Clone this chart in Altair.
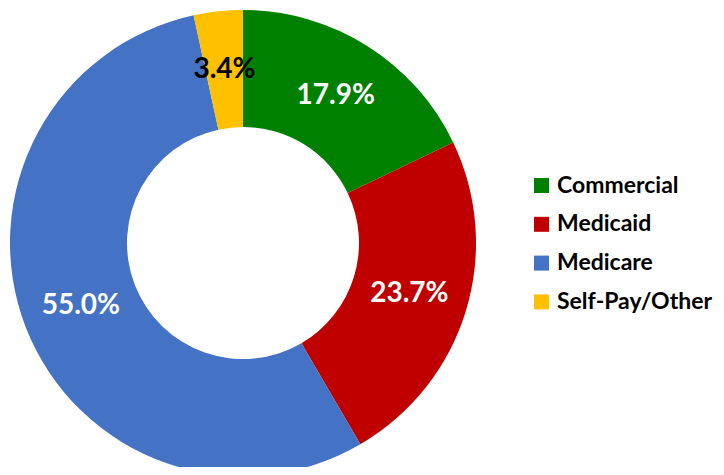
import altair as alt
import pandas as pd

categories = ["Commercial", "Medicaid", "Medicare", "Self-Pay/Other"]
values = [17.9, 23.7, 55.0, 3.4]
labels = ["17.9%", "23.7%", "55.0%", "3.4%"]
order = [0, 1, 2, 3]
colors = ["#008000", "#C00000", "#4472C4", "#FFC000"]

df = pd.DataFrame({"category": categories, "value": values, "label": labels, "ord": order})

FONT = "Lato"

base = alt.Chart(df).encode(
    theta=alt.Theta("value:Q", stack=True),
    order=alt.Order("ord:Q"),
    x=alt.value(235),
    y=alt.value(235),
)

arcs = base.mark_arc(innerRadius=116, outerRadius=233).encode(
    color=alt.Color(
        "category:N",
        scale=alt.Scale(domain=categories, range=colors),
        sort=categories,
        legend=alt.Legend(
            title=None,
            orient="none",
            legendX=522,
            legendY=166,
            symbolType="square",
            symbolSize=225,
            symbolStrokeWidth=0,
            labelFontSize=23,
            labelFont=FONT,
            labelFontWeight="bold",
            labelColor="#000000",
            rowPadding=14.8,
            labelOffset=4,
            labelLimit=300,
        ),
    )
)

text = base.mark_text(radius=174, font=FONT, fontSize=28, fontWeight="bold").encode(
    text="label:N",
    color=alt.condition(alt.datum.category == "Self-Pay/Other", alt.value("#000000"), alt.value("#FFFFFF")),
)

chart = (arcs + text).properties(
    width=708,
    height=459,
    padding=0,
    autosize=alt.AutoSizeParams(type="none"),
).configure_view(stroke=None)

chart.save("out.html", embed_options={"renderer": "svg", "actions": False})
